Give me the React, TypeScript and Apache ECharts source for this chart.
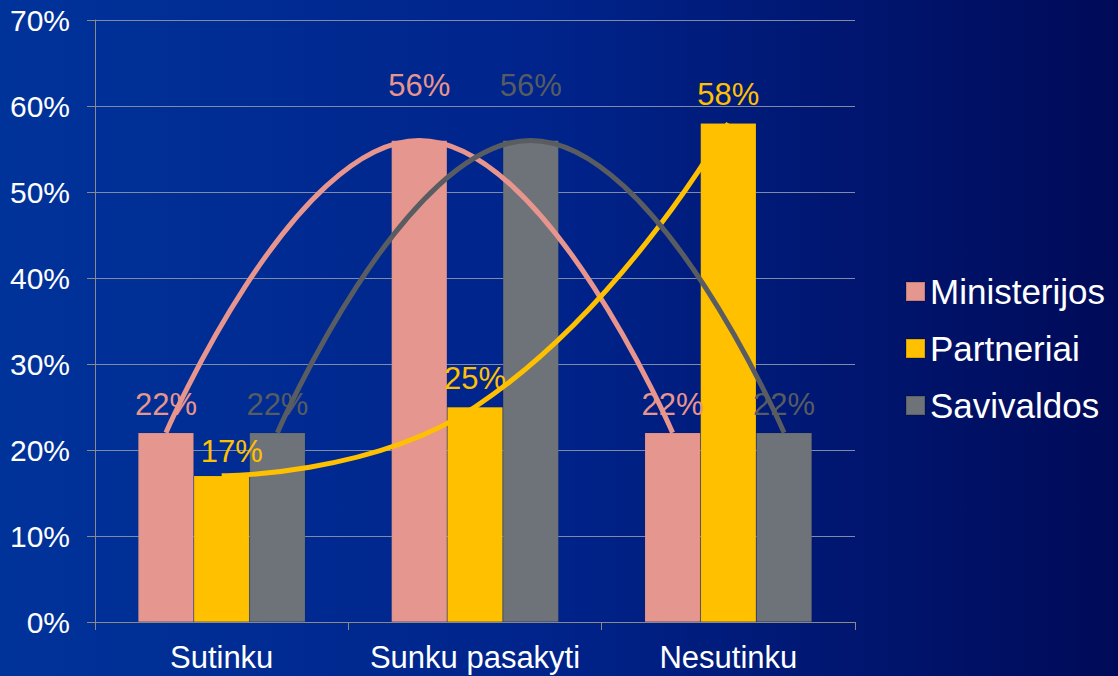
import React, { useEffect, useRef } from "react";
import * as echarts from "echarts";

const categories = ["Sutinku", "Sunku pasakyti", "Nesutinku"];
const seriesNames = ["Ministerijos", "Partneriai", "Savivaldos"];
const ministerijos = [22, 56, 22];
const partneriai = [17, 25, 58];
const savivaldos = [22, 56, 22];
const yTicks = [0, 10, 20, 30, 40, 50, 60, 70];

const barColors = ["#e5968f", "#ffc000", "#6d7378"];
const labelColors = ["#e8958e", "#ffc000", "#565c62"];
const lineColors = ["#e8958e", "#ffc000", "#595d62"];
const FONT = "'Liberation Sans', Arial, sans-serif";
const BAR_W = 0.22; // fraction of a category band

export default function App() {
  const ref = useRef<HTMLDivElement>(null);
  useEffect(() => {
    if (!ref.current) return;
    const chart = echarts.init(ref.current, undefined, { renderer: "svg" });
    const all = [ministerijos, partneriai, savivaldos];
    const bars = all.map((vals, k) => ({
      name: seriesNames[k],
      type: "bar",
      xAxisIndex: 0,
      yAxisIndex: 0,
      barWidth: BAR_W * 100 + "%",
      barGap: "0%",
      z: 2,
      itemStyle: { color: barColors[k], borderColor: "rgba(0,0,0,0.15)", borderWidth: 0.5 },
      label: {
        show: true,
        position: "top",
        distance: 13,
        formatter: "{c}%",
        color: labelColors[k],
        fontSize: 31,
        fontFamily: FONT,
      },
      data: vals.map((v, i) => {
        if (i === 1 && k !== 1) return { value: v, label: { distance: 39 } };
        if (i === 0 && k === 1) return { value: v, label: { offset: [10, 0], distance: 9 } };
        return v;
      }),
    }));
    const lines = all.map((vals, k) => ({
      name: seriesNames[k],
      type: "line",
      xAxisIndex: 1,
      yAxisIndex: 0,
      smooth: 0.5,
      symbol: "none",
      z: 5,
      silent: true,
      lineStyle: { color: lineColors[k], width: 5 },
      data: vals.map((v, i) => [i + (k - 1) * BAR_W, v]),
    }));
    chart.setOption({
      animation: false,
      backgroundColor: {
        type: "linear",
        x: 0,
        y: 0,
        x2: 1,
        y2: 0,
        colorStops: [
          { offset: 0, color: "#00339a" },
          { offset: 0.5, color: "#00238a" },
          { offset: 1, color: "#000a58" },
        ],
      },
      textStyle: { fontFamily: FONT },
      grid: { left: 95, right: 263, top: 20, bottom: 54, containLabel: false },
      legend: {
        orient: "vertical",
        left: 900,
        top: 269,
        itemWidth: 19,
        itemHeight: 19,
        itemGap: 22,
        icon: "rect",
        data: seriesNames.map((n, k) => ({ name: n, itemStyle: { color: barColors[k] } })),
        textStyle: { color: "#ffffff", fontSize: 35, fontFamily: FONT, lineHeight: 35, padding: [0, 0, 0, 0] },
      },
      xAxis: [
        {
          type: "category",
          data: categories,
          boundaryGap: true,
          axisLine: { onZero: false, lineStyle: { color: "#8a8a8a", width: 1 } },
          axisTick: { show: true, interval: 0, length: 8, lineStyle: { color: "#8a8a8a" } },
          axisLabel: { interval: 0, color: "#ffffff", fontSize: 31, fontFamily: FONT, margin: 20 },
        },
        {
          type: "value",
          min: -0.5,
          max: 2.5,
          show: false,
          axisLine: { show: false },
          axisTick: { show: false },
          axisLabel: { show: false },
          splitLine: { show: false },
        },
      ],
      yAxis: {
        type: "value",
        min: yTicks[0],
        max: yTicks[yTicks.length - 1],
        interval: 10,
        axisLine: { show: true, onZero: false, lineStyle: { color: "#8a8a8a", width: 1 } },
        axisTick: { show: true, length: 8, lineStyle: { color: "#8a8a8a" } },
        splitLine: { lineStyle: { color: "#7f8aa8", width: 1 } },
        axisLabel: { color: "#ffffff", fontSize: 30, fontFamily: FONT, margin: 25, formatter: "{value}%" },
      },
      series: [...bars, ...lines],
    });
    return () => chart.dispose();
  }, []);
  return (
    <div
      ref={ref}
      style={{ position: "fixed", left: 0, top: 0, width: 1118, height: 676 }}
    />
  );
}
